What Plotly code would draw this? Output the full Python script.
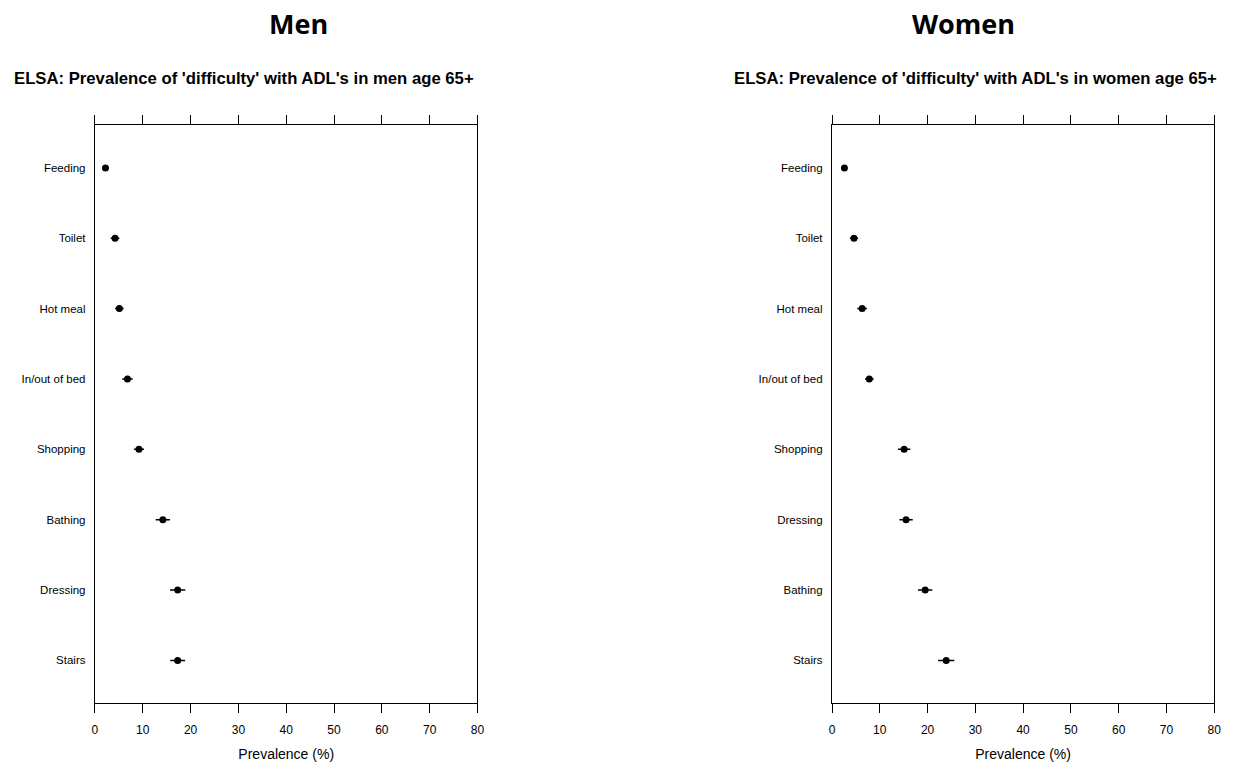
import plotly.graph_objects as go

categories_men = ["Feeding", "Toilet", "Hot meal", "In/out of bed", "Shopping", "Bathing", "Dressing", "Stairs"]
values_men = [2.2, 4.2, 5.1, 6.8, 9.2, 14.2, 17.3, 17.3]
err_men = [0.5, 0.9, 0.9, 1.1, 1.05, 1.5, 1.6, 1.55]

categories_women = ["Feeding", "Toilet", "Hot meal", "In/out of bed", "Shopping", "Dressing", "Bathing", "Stairs"]
values_women = [2.6, 4.6, 6.3, 7.8, 15.1, 15.5, 19.5, 23.9]
err_women = [0.6, 0.85, 1.0, 0.9, 1.3, 1.4, 1.5, 1.7]

x_ticks = [0, 10, 20, 30, 40, 50, 60, 70, 80]

W, H = 1249, 771
fig = go.Figure()


def add_panel(cats, vals, errs, xa, ya):
    n = len(cats)
    ypos = [n - 1 - i for i in range(n)]
    fig.add_trace(go.Scatter(
        x=vals, y=ypos, mode="markers",
        marker=dict(symbol="circle", size=7, color="black"),
        error_x=dict(type="data", array=errs, visible=True, color="black", thickness=1.5, width=0),
        xaxis=xa, yaxis=ya, showlegend=False, hoverinfo="x+y",
    ))
    return ypos


yp_m = add_panel(categories_men, values_men, err_men, "x", "y")
yp_w = add_panel(categories_women, values_women, err_women, "x2", "y2")

ydom = [1 - 703.3 / H, 1 - 125 / H]
ytickfont = dict(family="Liberation Sans, Arial", size=11.5, color="black")
xtickfont = dict(family="Liberation Sans, Arial", size=12, color="black")


def xaxis_cfg(dom):
    return dict(domain=dom, range=[0, 80], tickvals=x_ticks, ticks="outside", ticklen=9,
                tickcolor="black", tickwidth=1, showline=True, linecolor="black", linewidth=1.3,
                mirror="ticks", showgrid=False, zeroline=False, tickfont=xtickfont,
                ticklabelstandoff=6,
                title=dict(text="Prevalence (%)",
                           font=dict(family="Liberation Sans, Arial", size=14, color="black"),
                           standoff=13))


def yaxis_cfg(anchor, cats, ypos):
    return dict(domain=ydom, anchor=anchor, range=[-0.61, 7.61], tickvals=ypos, ticktext=cats,
                showline=True, linecolor="black", linewidth=1.3, mirror=True, ticks="",
                showgrid=False, zeroline=False, tickfont=ytickfont, ticklabelstandoff=6)


def ann(text, x, y, font):
    return dict(text=text, x=x / W, y=1 - y / H, xref="paper", yref="paper",
                xanchor="center", yanchor="middle", showarrow=False, font=font)


big = dict(family="Open Sans, Noto Sans, sans-serif", size=27, color="black")
sub = dict(family="Liberation Sans, Arial", size=16.7, color="black")

fig.update_layout(
    width=W, height=H,
    margin=dict(l=0, r=0, t=0, b=0),
    paper_bgcolor="white", plot_bgcolor="white",
    xaxis=dict(**xaxis_cfg([92.7 / W, 478.3 / W]), anchor="y"),
    yaxis=yaxis_cfg("x", categories_men, yp_m),
    xaxis2=dict(**xaxis_cfg([835.7 / W, 1221 / W]), anchor="y2"),
    yaxis2=yaxis_cfg("x2", categories_women, yp_w),
    annotations=[
        ann("<b>Men</b>", 297.5, 23, big),
        ann("<b>Women</b>", 968, 23, big),
        ann("<b>ELSA: Prevalence of 'difficulty' with ADL's in men age 65+</b>", 242.5, 79, sub),
        ann("<b>ELSA: Prevalence of 'difficulty' with ADL's in women age 65+</b>", 980, 79, sub),
    ],
)

fig.write_html("out.html")
